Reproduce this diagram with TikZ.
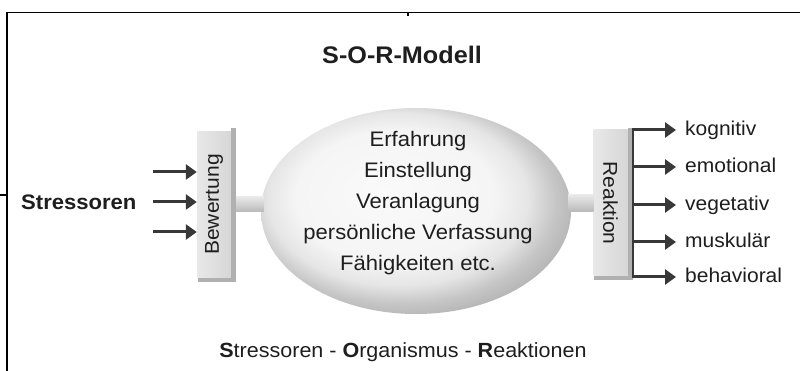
\documentclass[tikz,border=0pt]{standalone}
\usepackage{fontspec}
\setmainfont{Liberation Sans}[FakeStretch=1.05]
\usetikzlibrary{arrows.meta,shapes.geometric,calc}
\definecolor{ink}{HTML}{1E1E1E}
\definecolor{arrowc}{HTML}{383838}
\pgfdeclareradialshading{orgshade}{\pgfpoint{-5bp}{5bp}}{color(0bp)=(gray!4); color(16bp)=(gray!8); color(21bp)=(gray!20); color(25bp)=(gray!45); color(30bp)=(gray!65); color(50bp)=(gray!65)}
\begin{document}
\begin{tikzpicture}[x=1pt,y=-1pt,
  txt/.style={font=\fontsize{21}{24}\selectfont, text=ink, inner sep=0pt},
  arr/.style={draw=arrowc, line width=3pt, -{Triangle[length=11pt,width=15pt]}},
  facebox/.style={minimum width=34pt, minimum height=146pt, inner sep=0pt, draw=none, left color=gray!18, right color=gray!32},
  boxshadow/.style={fill=gray!62, draw=none},
  stubfill/.style={top color=gray!18, bottom color=gray!55, draw=none},
  outlabel/.style={txt, font=\fontsize{20}{24}\selectfont, anchor=west, inner xsep=9pt, inner ysep=0pt, text height=11pt, text depth=0pt}
]
\useasboundingbox (0,0) rectangle (800,371);
\fill[white] (0,0) rectangle (800,371);
% frame and crop marks
\draw[line width=1.6pt] (7,371) -- (7,12.5) -- (800,12.5);
\draw[line width=1.2pt] (0,195) -- (7,195);
\draw[line width=1.2pt] (408,13) -- (408,16.5);

% title
\node[txt, font=\fontsize{24}{28}\selectfont\bfseries] (title) at (402,55) {S-O-R-Modell};

% boxes
\node[facebox] (bew) at (214,204.5) {};
\node[facebox] (rea) at (610.5,203) {};
\fill[boxshadow] ($(bew.north east)+(0,-3)$) rectangle ($(bew.south east)+(5,4)$);
\fill[boxshadow] ($(bew.south west)+(1,0)$) rectangle ($(bew.south east)+(5,4)$);
\fill[boxshadow] ($(rea.north east)+(0,-2)$) rectangle ($(rea.south east)+(5,4)$);
\fill[boxshadow] ($(rea.south west)+(1,0)$) rectangle ($(rea.south east)+(5,4)$);

% ellipse
\node[ellipse, minimum width=310pt, minimum height=206pt, inner sep=0pt, shade, shading=orgshade] (org) at (416,211) {};

% stubs
\shade[stubfill] ($(bew.east)+(5,-7.5)$) rectangle ($(bew.east -| org.west)+(3,7.5)$);
\shade[stubfill] ($(rea.west)+(0,-8)$) rectangle ($(rea.west -| org.east)+(-3,8.5)$);

% texts
\node[txt, font=\fontsize{20}{24}\selectfont, rotate=90] (bewl) at (bew) {Bewertung};
\node[txt, font=\fontsize{20}{24}\selectfont, rotate=-90] (real) at (rea) {Reaktion};
\node[txt, align=center, font=\fontsize{21}{30.8}\selectfont] (orgtext) at (418,203)
  {Erfahrung\\Einstellung\\Veranlagung\\persönliche Verfassung\\Fähigkeiten etc.};

% stressors
\node[txt, font=\fontsize{21}{24}\selectfont\bfseries, anchor=west] (str) at (21,202) {Stressoren};
\coordinate (s1) at (153,172);
\coordinate (s2) at (153,202);
\coordinate (s3) at (153,232);
\draw[arr] (s1) -- (s1 -| bew.west);
\draw[arr] (s2) -- (s2 -| bew.west);
\draw[arr] (s3) -- (s3 -| bew.west);

% reactions
\coordinate (vl) at (633,0);
\node[outlabel] (r1) at (676,130) {kognitiv};
\node[outlabel] (r2) at (676,167) {emotional};
\node[outlabel] (r3) at (676,205) {vegetativ};
\node[outlabel] (r4) at (676,242) {muskulär};
\node[outlabel] (r5) at (676,277) {behavioral};
\draw[draw=arrowc, line width=2.6pt] ($(vl |- r1.west)+(0,-1.5)$) -- ($(vl |- r5.west)+(0,1.5)$);
\foreach \r in {r1,r2,r3,r4,r5}
  \draw[arr] (vl |- \r.west) -- (\r.west);

% caption
\node[txt, font=\fontsize{20.5}{24}\selectfont] (cap) at (403,352) {\textbf{S}tressoren - \textbf{O}rganismus - \textbf{R}eaktionen};
\end{tikzpicture}
\end{document}
